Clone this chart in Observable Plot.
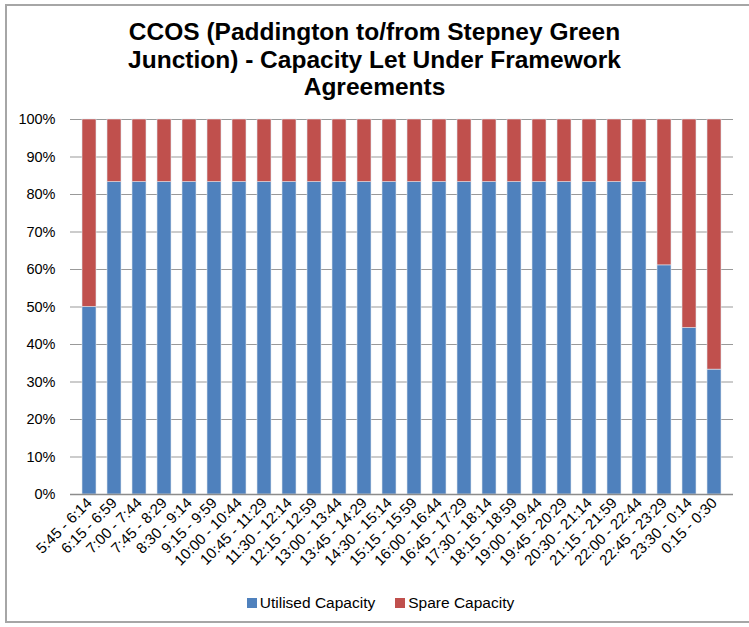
<!DOCTYPE html>
<html>
<head>
<meta charset="utf-8">
<script src="https://cdn.jsdelivr.net/npm/d3@7"></script>
<script src="https://cdn.jsdelivr.net/npm/@observablehq/plot@0.6"></script>
<style>
  html, body { margin: 0; padding: 0; background: #fff; }
  #wrap { position: relative; width: 749px; height: 627px; overflow: hidden; font-family: "Liberation Sans", Arial, sans-serif; }
  #border { position: absolute; left: 5px; top: 4px; width: 800px; height: 619px; border: 2px solid #a6a6a6; box-sizing: border-box; }
  #title { position: absolute; left: 0; top: 18px; width: 749px; text-align: center; font-size: 24.5px; font-weight: bold; line-height: 27.5px; color: #000; }
  #chart { position: absolute; left: 0; top: 0; }
  #legend { position: absolute; left: 6px; top: 594px; width: 749px; text-align: center; font-size: 15.5px; color: #000; }
  .sw { display: inline-block; width: 10px; height: 10px; margin-right: 3px; vertical-align: 0px; }
  .item { margin: 0 10px; }
</style>
</head>
<body>
<div id="wrap">
  <div id="border"></div>
  <div id="chart"></div>
  <div id="title">CCOS (Paddington to/from Stepney Green<br>Junction) - Capacity Let Under Framework<br>Agreements</div>
  <div id="legend"></div>
</div>
<script>
const periods = ["5:45 - 6:14","6:15 - 6:59","7:00 - 7:44","7:45 - 8:29","8:30 - 9:14","9:15 - 9:59","10:00 - 10:44","10:45 - 11:29","11:30 - 12:14","12:15 - 12:59","13:00 - 13:44","13:45 - 14:29","14:30 - 15:14","15:15 - 15:59","16:00 - 16:44","16:45 - 17:29","17:30 - 18:14","18:15 - 18:59","19:00 - 19:44","19:45 - 20:29","20:30 - 21:14","21:15 - 21:59","22:00 - 22:44","22:45 - 23:29","23:30 - 0:14","0:15 - 0:30"];
const utilised = [0.5,0.833,0.833,0.833,0.833,0.833,0.833,0.833,0.833,0.833,0.833,0.833,0.833,0.833,0.833,0.833,0.833,0.833,0.833,0.833,0.833,0.833,0.833,0.611,0.444,0.333];
const spare = utilised.map(u => 1 - u);
const seriesNames = ["Utilised Capacity", "Spare Capacity"];
const seriesColors = ["#4F81BD", "#C0504D"];
const yTicks = [0,0.1,0.2,0.3,0.4,0.5,0.6,0.7,0.8,0.9,1];

const rows = [];
periods.forEach((p, i) => {
  rows.push({period: p, series: seriesNames[0], value: utilised[i]});
  rows.push({period: p, series: seriesNames[1], value: spare[i]});
});

const chart = Plot.plot({
  width: 749,
  height: 590,
  marginTop: 119,
  marginBottom: 96,
  marginLeft: 70,
  marginRight: 16,
  style: {fontFamily: "Liberation Sans, Arial, sans-serif", fontSize: "12px", color: "#000", background: "transparent"},
  x: {domain: periods, paddingInner: 0.45, paddingOuter: 0.225, label: null},
  y: {domain: [0, 1], label: null},
  color: {domain: seriesNames, range: seriesColors},
  marks: [
    Plot.gridY(yTicks, {stroke: "#999999", strokeOpacity: 1, strokeWidth: 1}),
    Plot.barY(rows, {x: "period", y: "value", fill: "series", stroke: "#dfe6ef", strokeWidth: 0.6, order: seriesNames}),
    Plot.ruleY([0], {stroke: "#8c8c8c", strokeWidth: 1.5}),
    Plot.axisY(yTicks, {tickFormat: d3.format(".0%"), tickSize: 0, tickPadding: 15, fontSize: 14.5, label: null}),
    Plot.axisX({tickRotate: -45, tickSize: 0, tickPadding: 6, fontSize: 15, label: null})
  ]
});
document.getElementById("chart").appendChild(chart);

const legend = document.getElementById("legend");
seriesNames.forEach((n, i) => {
  const s = document.createElement("span");
  s.className = "item";
  s.innerHTML = `<span class="sw" style="background:${seriesColors[i]}"></span>${n}`;
  legend.appendChild(s);
});
</script>
</body>
</html>
